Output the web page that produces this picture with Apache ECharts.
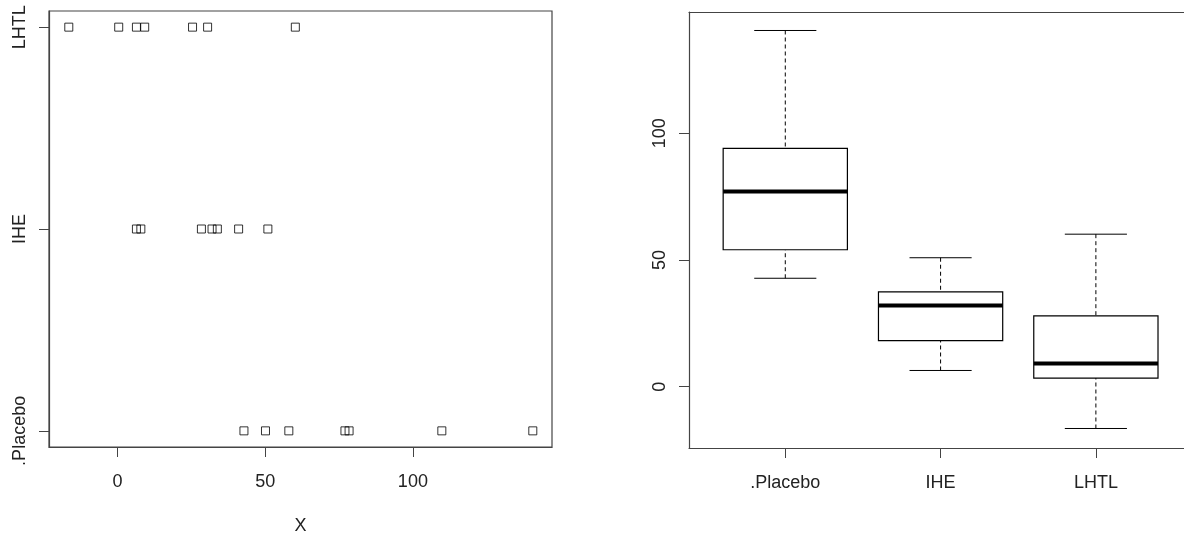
<!DOCTYPE html>
<html>
<head>
<meta charset="utf-8">
<script src="https://cdn.jsdelivr.net/npm/echarts@6/dist/echarts.min.js"></script>
<style>
html,body{margin:0;padding:0;background:#fff;}
#c{width:1184px;height:537px;}
</style>
</head>
<body>
<div id="c"></div>
<script>
// ---- data ----
const groups = ['.Placebo', 'IHE', 'LHTL'];
const placebo = [42.8, 50.1, 58.0, 77.0, 78.4, 109.8, 140.6];
const ihe = [6.4, 7.9, 28.4, 32.0, 33.8, 41.0, 50.9];
const lhtl = [-16.5, 0.4, 6.4, 9.2, 25.4, 30.5, 60.2];
const xTicks = [0, 50, 100];
const boxYTicks = [0, 50, 100];

const groupValues = [placebo, ihe, lhtl];

// Tukey five-number summary (as R's boxplot uses)
function fivenum(arr) {
  const x = arr.slice().sort((a, b) => a - b);
  const n = x.length;
  const n4 = Math.floor((n + 3) / 2) / 2;
  const d = [1, n4, (n + 1) / 2, n + 1 - n4, n];
  return d.map(v => 0.5 * (x[Math.floor(v) - 1] + x[Math.ceil(v) - 1]));
}

const scatterData = [];
groupValues.forEach((vals, gi) => vals.forEach(v => scatterData.push([v, gi + 1])));
const boxData = groupValues.map((vals, gi) => [gi + 1].concat(fivenum(vals)));

const FONT = 'Liberation Sans';
const TXT = '#222';
const LINE = '#444';
const FS = 18;

const lineOnly = {
  axisLine: {show: true, onZero: false, lineStyle: {color: LINE, width: 1.2}},
  axisTick: {show: false}, axisLabel: {show: false}, splitLine: {show: false}
};

const chart = echarts.init(document.getElementById('c'), null, {renderer: 'canvas'});

chart.setOption({
  animation: false,
  backgroundColor: '#fff',
  grid: [
    {left: 49, top: 11, width: 503, height: 436, show: true, borderColor: LINE, borderWidth: 1.2,
      backgroundColor: 'transparent', containLabel: false, outerBoundsMode: 'none'},
    {left: 689, top: 12, width: 495, height: 436, show: false, containLabel: false, outerBoundsMode: 'none'}
  ],
  xAxis: [
    {
      gridIndex: 0, type: 'value', min: -23.2, max: 147.1,
      name: 'X', nameLocation: 'middle', nameGap: 70,
      nameTextStyle: {color: TXT, fontSize: FS, fontFamily: FONT},
      axisLine: {show: true, onZero: false, lineStyle: {color: LINE, width: 1.2}},
      axisTick: {show: true, length: 10, lineStyle: {color: LINE}, customValues: xTicks},
      axisLabel: {color: TXT, fontSize: FS, fontFamily: FONT, margin: 26, customValues: xTicks},
      splitLine: {show: false}
    },
    {
      gridIndex: 1, type: 'value', min: 0.38, max: 0.38 + 495 / 155.3,
      axisLine: {show: true, onZero: false, lineStyle: {color: LINE, width: 1.2}},
      axisTick: {show: true, length: 10, lineStyle: {color: LINE}, customValues: [1, 2, 3]},
      axisLabel: {color: TXT, fontSize: FS, fontFamily: FONT, margin: 26, customValues: [1, 2, 3],
        formatter: v => groups[Math.round(v) - 1]},
      splitLine: {show: false}
    },
    Object.assign({gridIndex: 1, type: 'value', position: 'top', min: 0.38, max: 0.38 + 495 / 155.3}, lineOnly)
  ],
  yAxis: [
    {
      gridIndex: 0, type: 'value', min: 0.92, max: 3.08,
      axisLine: {show: true, onZero: false, lineStyle: {color: LINE, width: 1.2}},
      axisTick: {show: true, length: 10, lineStyle: {color: LINE}, customValues: [1, 2, 3]},
      axisLabel: {color: TXT, fontSize: FS, fontFamily: FONT, margin: 20, rotate: 90, customValues: [1, 2, 3],
        formatter: v => groups[Math.round(v) - 1]},
      splitLine: {show: false}
    },
    {
      gridIndex: 1, type: 'value', min: -24.2, max: 147.9,
      axisLine: {show: true, onZero: false, lineStyle: {color: LINE, width: 1.2}},
      axisTick: {show: true, length: 10, lineStyle: {color: LINE}, customValues: boxYTicks},
      axisLabel: {color: TXT, fontSize: FS, fontFamily: FONT, margin: 20, rotate: 90, customValues: boxYTicks},
      splitLine: {show: false}
    }
  ],
  series: [
    {
      type: 'scatter', xAxisIndex: 0, yAxisIndex: 0,
      data: scatterData,
      symbol: 'rect', symbolSize: 8,
      itemStyle: {color: 'transparent', borderColor: '#000', borderWidth: 1},
      silent: true
    },
    {
      type: 'custom', xAxisIndex: 1, yAxisIndex: 1,
      data: boxData,
      encode: {x: 0, y: [1, 2, 3, 4, 5]},
      silent: true,
      renderItem: function (params, api) {
        const x = api.value(0);
        const lo = api.value(1), q1 = api.value(2), med = api.value(3), q3 = api.value(4), hi = api.value(5);
        const hw = 0.4, cw = 0.2;
        const pL = api.coord([x - hw, q3]);
        const pR = api.coord([x + hw, q1]);
        const pMedL = api.coord([x - hw, med]);
        const pMedR = api.coord([x + hw, med]);
        const pHi = api.coord([x, hi]);
        const pLo = api.coord([x, lo]);
        const pQ3 = api.coord([x, q3]);
        const pQ1 = api.coord([x, q1]);
        const cL = api.coord([x - cw, hi])[0];
        const cR = api.coord([x + cw, hi])[0];
        const black = {stroke: '#000', lineWidth: 1, fill: null};
        const dashed = {stroke: '#000', lineWidth: 1, lineDash: [4, 3], fill: null};
        return {
          type: 'group',
          children: [
            {type: 'line', shape: {x1: pHi[0], y1: pHi[1], x2: pQ3[0], y2: pQ3[1]}, style: dashed},
            {type: 'line', shape: {x1: pLo[0], y1: pLo[1], x2: pQ1[0], y2: pQ1[1]}, style: dashed},
            {type: 'line', shape: {x1: cL, y1: pHi[1], x2: cR, y2: pHi[1]}, style: black},
            {type: 'line', shape: {x1: cL, y1: pLo[1], x2: cR, y2: pLo[1]}, style: black},
            {type: 'rect', shape: {x: pL[0], y: pL[1], width: pR[0] - pL[0], height: pR[1] - pL[1]},
              style: {stroke: '#000', lineWidth: 1.2, fill: '#fff'}},
            {type: 'line', shape: {x1: pMedL[0], y1: pMedL[1], x2: pMedR[0], y2: pMedR[1]},
              style: {stroke: '#000', lineWidth: 4}}
          ]
        };
      }
    }
  ]
});
</script>
</body>
</html>
